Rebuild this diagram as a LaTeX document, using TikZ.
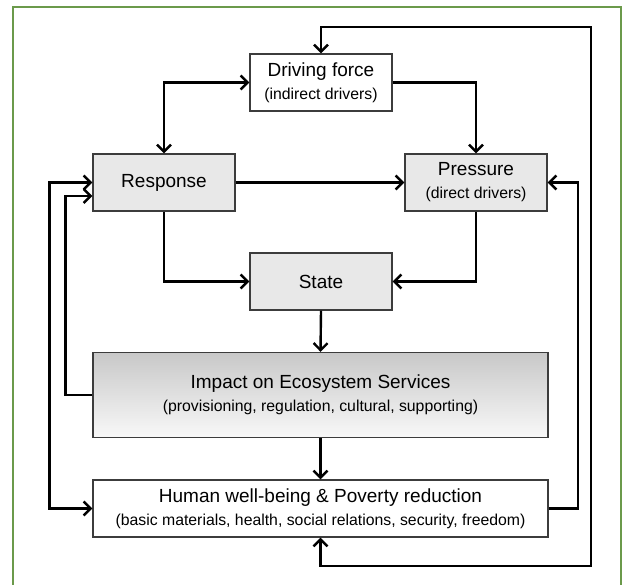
\documentclass[tikz,border=0pt]{standalone}
\usepackage{fontspec}
\setmainfont{Liberation Sans}
\usetikzlibrary{arrows.meta}

\definecolor{framegreen}{HTML}{6B9A4B}
\definecolor{boxline}{HTML}{3C3C3C}
\definecolor{boxgrey}{HTML}{E8E8E8}
\definecolor{shadetop}{HTML}{C8C8C8}
\definecolor{shadebot}{HTML}{F8F8F8}

\newcommand{\mainsize}{\fontsize{19}{23}\selectfont}
\newcommand{\subsize}{\fontsize{15.8}{23}\selectfont}

\tikzset{
	box/.style={draw=boxline, line width=1.4pt, minimum width=142pt, minimum height=57pt,
		inner sep=0pt, align=center, font=\mainsize},
	greybox/.style={box, fill=boxgrey},
	flow/.style={line width=2.4pt, -{Straight Barb[length=7pt,width=14pt]}},
	twoway/.style={line width=2.4pt, {Straight Barb[length=7pt,width=14pt]}-{Straight Barb[length=7pt,width=14pt]}}
}

\begin{document}
\begin{tikzpicture}[x=1pt, y=-1pt]
		\useasboundingbox (0,0) rectangle (626,585);
		% frame
		\draw [framegreen, line width=1.6pt] (13,585) -- (13,7) -- (621,7) -- (621,585);

		\node [box, fill=white] (driving) at (321,82.5) {Driving force\\{\subsize(indirect drivers)}};
		\node [greybox] (response) at (164,182.5) {Response};
		\node [greybox] (pressure) at (476,182.5) {Pressure\\{\subsize(direct drivers)}};
		\node [greybox] (state) at (321,281.5) {State};
		\node [box, minimum width=455pt, minimum height=85pt, top color=shadetop, bottom color=shadebot]
			(impact) at (320.5,395) {Impact on Ecosystem Services\\{\subsize(provisioning, regulation, cultural, supporting)}};
		\node [box, fill=white, minimum width=455pt] (human) at (320.5,508.5)
			{Human well-being \& Poverty reduction\\{\subsize(basic materials, health, social relations, security, freedom)}};

		\coordinate (looptop) at (591,27);
		\coordinate (loopbot) at (591,566);

		\draw [twoway] (response.north) |- (driving.west);
		\draw [flow] (driving.east) -| (pressure.north);
		\draw [flow] (response.east) -- (pressure.west);
		\draw [flow] (response.south) |- (state.west);
		\draw [flow] (pressure.south) |- (state.east);
		\draw [flow] (state.south) -- (impact.north);
		\draw [flow] (impact.south) -- (human.north);
		\draw [flow] (impact.west) -- ++(-27,0) |- ([yshift=-13.5pt]response.west);
		\draw [twoway] (response.west) -- ++(-43,0) |- (human.west);
		\draw [flow] (human.east) -- ++(29,0) |- (pressure.east);
		\draw [twoway] (driving.north) |- (looptop) -- (loopbot) -| (human.south);
	\end{tikzpicture}
\end{document}
